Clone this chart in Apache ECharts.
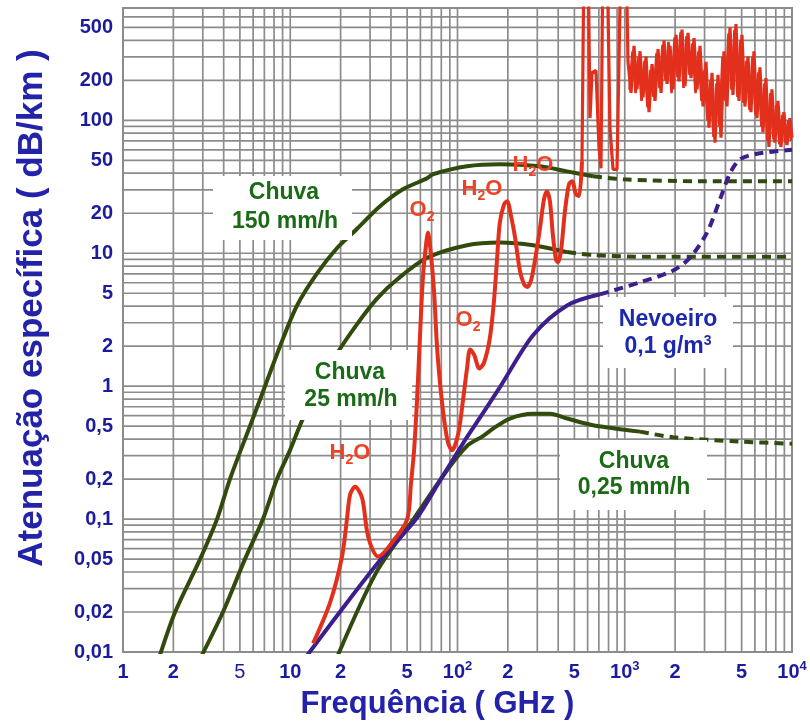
<!DOCTYPE html>
<html><head><meta charset="utf-8">
<script src="https://cdn.jsdelivr.net/npm/echarts@6/dist/echarts.min.js"></script>
<style>html,body{margin:0;padding:0;background:#fff}#c{width:810px;height:722px}</style>
</head><body><div id="c"></div>
<script>
// ---- axes / ticks ----
const X_MIN = 1, X_MAX = 10000, Y_MIN = 0.01, Y_MAX = 700;
const xTicks = [1, 2, 5, 10, 20, 50, 100, 200, 500, 1000, 2000, 5000, 10000];
const xTickText = ['1', '2', '{t|5}', '10', '2', '5', '10{s|2}', '2', '5', '10{s|3}', '2', '5', '10{s|4}'];
const yTicks = [500, 200, 100, 50, 20, 10, 5, 2, 1, 0.5, 0.2, 0.1, 0.05, 0.02, 0.01];
const yTickText = ['500', '200', '100', '50', '20', '10', '5', '2', '1', '0,5', '0,2', '0,1', '0,05', '0,02', '0,01'];

// ---- Chuva 150 mm/h ----
const rain150Freq = [1.66, 2.05, 2.89, 3.65, 4.36, 5.74, 6.59, 8.69, 11.0, 14.5, 19.0, 25.1, 34.4, 47.2, 65.7, 71.3, 114, 179, 311, 452, 646];
const rain150Att  = [0.0094, 0.020, 0.050, 0.10, 0.20, 0.50, 0.79, 2.0, 4.06, 7.08, 10.9, 15.3, 22.6, 30.3, 36.6, 39.3, 45.1, 46.7, 45.1, 41.3, 37.9];
const rain150DashFreq = [646, 977, 2820, 10000];
const rain150DashAtt  = [37.9, 36.0, 34.8, 34.8];

// ---- Chuva 25 mm/h ----
const rain25Freq = [2.97, 3.96, 5.36, 6.87, 8.33, 9.96, 11.9, 14.5, 19.0, 25.1, 33.0, 43.5, 65.7, 114, 179, 283, 452];
const rain25Att  = [0.0095, 0.020, 0.050, 0.10, 0.20, 0.329, 0.57, 0.936, 1.75, 2.93, 4.55, 6.34, 9.24, 11.5, 12.05, 11.5, 10.2];
const rain25DashFreq = [452, 646, 1415, 10000];
const rain25DashAtt  = [10.2, 9.7, 9.4, 9.4];

// ---- Chuva 0,25 mm/h ----
const rain025Freq = [19.3, 33.0, 54.2, 87.7, 114, 142, 164, 206, 283, 357, 452, 646, 1233];
const rain025Att  = [0.0095, 0.0406, 0.0986, 0.238, 0.355, 0.421, 0.481, 0.571, 0.620, 0.620, 0.571, 0.508, 0.455];
const rain025DashFreq = [1233, 1945, 4890, 10000];
const rain025DashAtt  = [0.455, 0.413, 0.383, 0.369];

// ---- Nevoeiro 0,1 g/m3 ----
const fogFreq = [12.6, 19.8, 34.9, 56.5, 79.6, 112, 126, 179, 283, 452, 711];
const fogAtt  = [0.0094, 0.020, 0.050, 0.10, 0.20, 0.40, 0.50, 0.98, 2.42, 4.05, 4.91];
const fogDashFreq = [711, 1233, 1945, 2455, 3103, 3715, 4259, 4890, 6177, 10000];
const fogDashAtt  = [4.91, 6.04, 7.41, 9.25, 14.3, 25.5, 39.9, 50.8, 56.1, 60];

// ---- Gases (O2 + H2O) ----
const gasFreq = [13.7, 17.3, 20.4, 21.8, 22.8, 24.4, 26.9, 28.8, 30.8, 33.5, 40.6, 49.9, 52.7, 55.0, 57.3, 59.7, 62.2, 64.8, 66.6, 69.4, 72.4, 75.4, 78.6, 83.0, 87.7, 92.7, 101, 108, 114, 119, 126, 135, 144, 156, 165, 172, 179, 190, 198, 209, 221, 236, 250, 261, 275, 291, 311, 329, 343, 357, 372, 388, 399, 416, 439, 464, 484, 511, 533, 555];
const gasAtt  = [0.0116, 0.0235, 0.0523, 0.0986, 0.153, 0.175, 0.144, 0.0805, 0.0604, 0.0523, 0.0667, 0.0986, 0.185, 0.329, 0.794, 2.42, 6.74, 11.5, 14.3, 9.7, 5.17, 2.0, 1.06, 0.571, 0.376, 0.329, 0.438, 0.794, 1.36, 1.89, 1.71, 1.36, 1.50, 2.29, 4.29, 8.67, 16.9, 23.4, 24.6, 19.0, 13.1, 7.41, 5.85, 5.58, 6.24, 8.96, 15.3, 25.5, 29.2, 24.6, 13.6, 8.96, 8.55, 10.5, 20.7, 33.0, 34.8, 27.8, 26.9, 49.2];
const gasHighFreq = [555, 571, 603, 620, 637, 673, 701, 721, 741, 783, 816, 851, 899, 924, 950, 1017,
  1046, 1090, 1136, 1184, 1234, 1286, 1340, 1397, 1456, 1517, 1581, 1648, 1717, 1790, 1865, 1944, 2026, 2111, 2200, 2293,
  2390, 2490, 2595, 2705, 2819, 2937, 3061, 3190, 3324, 3464, 3610, 3762, 3921, 4086, 4258, 4437, 4624, 4819, 5022, 5233,
  5454, 5683, 5923, 6172, 6432, 6703, 6985, 7280, 7586, 7906, 8239, 8586, 8947, 9324, 9717, 10000];
const gasHighAtt  = [49.2, 2000, 2000, 104, 228, 237, 63, 43.6, 2000, 2000, 87.8, 42.8, 42.8, 42.8, 2000, 2000,
  275, 161, 364, 171, 331, 149, 302, 115, 265, 140, 344, 161, 400, 188, 364, 171, 439, 196, 482, 181,
  455, 208, 415, 171, 364, 127, 275, 88, 228, 68, 220, 74, 331, 127, 500, 155, 529, 140, 439, 127,
  302, 115, 331, 104, 250, 81, 208, 63, 171, 68, 140, 63, 115, 65, 104, 74];
// in-between samples of the same noisy absorption band
const gasBandFreq = [1068, 1113, 1160, 1209, 1260, 1313, 1368, 1426, 1486, 1549, 1614, 1682, 1753, 1827, 1904, 1985, 2068, 2155, 2246, 2341,
  2440, 2542, 2649, 2761, 2877, 2999, 3125, 3256, 3394, 3537, 3686, 3841, 4003, 4171, 4347, 4530, 4721, 4919, 5127, 5343,
  5568, 5803, 6047, 6301, 6566, 6843, 7131, 7431, 7744, 8071, 8411, 8765, 9134, 9519, 9858];
const gasBandAtt  = [170, 330, 160, 300, 140, 280, 125, 240, 150, 320, 175, 370, 200, 390, 160, 420, 210, 460, 175, 430,
  220, 380, 160, 330, 140, 240, 100, 200, 75, 190, 90, 300, 140, 450, 170, 480, 150, 400, 135, 280,
  120, 300, 110, 230, 90, 190, 70, 160, 72, 130, 66, 110, 68, 100, 70];

// ---- styling constants ----
const FONT = '"Liberation Sans", Arial, sans-serif';
const GREEN = '#314b0e', FOG = '#3c1f8c', RED = '#e2301d';
const GREEN_TXT = '#1b6a16', BLUE_TXT = '#1c28ad', RED_TXT = '#ef4224', AXIS_TXT = '#1b1b9c', TITLE = '#2323aa';
const GRID_COLOR = '#8c8c8c';

const zip = (a, b) => a.map((v, i) => [v, b[i]]);

// grid line values (standard log grid)
const xGrid = [], yGrid = [];
for (let e = 0; e < 4; e++) for (let m = 1; m <= 9; m++) xGrid.push(m * Math.pow(10, e));
xGrid.push(10000);
for (let e = -2; e < 3; e++) for (let m = 1; m <= 9; m++) { const v = +(m * Math.pow(10, e)).toPrecision(3); if (v <= 700) yGrid.push(v); }

function lineSeries(name, data, color, dashed, smooth, width) {
  return {
    name, type: 'line', data, symbol: 'none', smooth: smooth, z: 3,
    lineStyle: { color, width: width || 4, type: dashed ? [9, 6] : 'solid' },
    silent: true, animation: false
  };
}

const chart = echarts.init(document.getElementById('c'), null, { renderer: 'canvas' });
const xLabelMap = {};
xTicks.forEach((v, i) => { xLabelMap[v] = xTickText[i]; });
const yLabelMap = {};
yTicks.forEach((v, i) => { yLabelMap[v] = yTickText[i]; });
const keyOf = v => +(+v).toPrecision(4);

function txt(x, y, text, fill, size) {
  return {
    type: 'text', x, y, z: 20, silent: true,
    style: {
      text, fill, font: 'bold ' + size + 'px ' + FONT,
      align: 'center', verticalAlign: 'middle', textAlign: 'center', textVerticalAlign: 'middle'
    }
  };
}
function box(x, y, w, h) {
  return { type: 'rect', shape: { x, y, width: w, height: h }, style: { fill: '#ffffff' }, z: 10, silent: true };
}
function chem(x, y, a, sub, b) {
  return {
    type: 'text', x, y, z: 20, silent: true,
    style: {
      text: a + '{s|' + sub + '}' + b, fill: RED_TXT, font: 'bold 22px ' + FONT,
      align: 'center', verticalAlign: 'middle', textAlign: 'center', textVerticalAlign: 'middle',
      lineHeight: 28,
      rich: { s: { fontSize: 14, fontWeight: 'bold', fontFamily: FONT, fill: RED_TXT, color: RED_TXT, verticalAlign: 'bottom', lineHeight: 14 } }
    }
  };
}

const option = {
  backgroundColor: '#ffffff',
  animation: false,
  grid: { left: 123, right: 18, top: 8, bottom: 70, show: true, borderColor: GRID_COLOR, borderWidth: 2, backgroundColor: 'transparent', outerBoundsMode: 'none', containLabel: false },
  xAxis: {
    type: 'log', logBase: 10, min: X_MIN, max: X_MAX,
    name: 'Frequência ( GHz )', nameLocation: 'middle', nameGap: 37,
    nameTextStyle: { fontFamily: FONT, fontWeight: 'bold', fontSize: 31, color: TITLE, padding: [0, 40, 0, 0] },
    axisLine: { show: false }, axisTick: { show: false }, splitLine: { show: false }, minorSplitLine: { show: false },
    axisLabel: {
      customValues: xTicks, margin: 8, fontFamily: FONT, fontWeight: 'bold', fontSize: 20, color: AXIS_TXT, lineHeight: 24,
      formatter: v => xLabelMap[keyOf(v)] || '',
      rich: {
        t: { fontFamily: FONT, fontWeight: 'normal', fontSize: 20, color: AXIS_TXT, lineHeight: 24 },
        s: { fontFamily: FONT, fontWeight: 'bold', fontSize: 13, color: AXIS_TXT, verticalAlign: 'top', lineHeight: 13 }
      }
    }
  },
  yAxis: {
    type: 'log', logBase: 10, min: Y_MIN, max: Y_MAX,
    name: 'Atenuação específica ( dB/km )', nameLocation: 'middle', nameGap: 73, nameRotate: 90,
    nameTextStyle: { fontFamily: FONT, fontWeight: 'bold', fontSize: 35, color: TITLE, padding: [0, 0, 0, 44] },
    axisLine: { show: false }, axisTick: { show: false }, splitLine: { show: false }, minorSplitLine: { show: false },
    axisLabel: {
      customValues: yTicks, margin: 10, fontFamily: FONT, fontWeight: 'bold', fontSize: 20, color: AXIS_TXT,
      formatter: v => yLabelMap[keyOf(v)] || ''
    }
  },
  series: [
    {
      type: 'custom', name: 'vgrid', z: 0, silent: true, clip: false,
      data: xGrid.map(v => [v, Y_MIN]), encode: { x: 0, y: 1 },
      renderItem: (p, api) => {
        const v = api.value(0); const a = api.coord([v, Y_MIN]); const b = api.coord([v, Y_MAX]);
        return { type: 'line', shape: { x1: a[0], y1: a[1], x2: b[0], y2: b[1] }, style: { stroke: GRID_COLOR, lineWidth: 1.7 } };
      }
    },
    {
      type: 'custom', name: 'hgrid', z: 0, silent: true, clip: false,
      data: yGrid.map(v => [X_MIN, v]), encode: { x: 0, y: 1 },
      renderItem: (p, api) => {
        const v = api.value(1); const a = api.coord([X_MIN, v]); const b = api.coord([X_MAX, v]);
        return { type: 'line', shape: { x1: a[0], y1: a[1], x2: b[0], y2: b[1] }, style: { stroke: GRID_COLOR, lineWidth: 1.7 } };
      }
    },
    lineSeries('Chuva 150 mm/h', zip(rain150Freq, rain150Att), GREEN, false, 0.3),
    lineSeries('Chuva 150 mm/h (tracejado)', zip(rain150DashFreq, rain150DashAtt), GREEN, true, 0.3),
    lineSeries('Chuva 25 mm/h', zip(rain25Freq, rain25Att), GREEN, false, 0.3),
    lineSeries('Chuva 25 mm/h (tracejado)', zip(rain25DashFreq, rain25DashAtt), GREEN, true, 0.3),
    lineSeries('Chuva 0,25 mm/h', zip(rain025Freq, rain025Att), GREEN, false, 0.3),
    lineSeries('Chuva 0,25 mm/h (tracejado)', zip(rain025DashFreq, rain025DashAtt), GREEN, true, 0.3),
    lineSeries('Nevoeiro', zip(fogFreq, fogAtt), FOG, false, 0.3),
    lineSeries('Nevoeiro (tracejado)', zip(fogDashFreq, fogDashAtt), FOG, true, 0.3),
    lineSeries('Gases', zip(gasFreq, gasAtt), RED, false, 0.3),
    lineSeries('Gases (alta freq.)', zip(gasHighFreq, gasHighAtt), RED, false, false, 3.2),
    lineSeries('Gases (banda)', zip(gasBandFreq, gasBandAtt), RED, false, false, 2.6)
  ],
  graphic: [
    box(213, 176, 139, 64), txt(284, 193, 'Chuva', GREEN_TXT, 23), txt(285, 222, '150 mm/h', GREEN_TXT, 23),
    box(285, 350, 127, 70), txt(350, 373, 'Chuva', GREEN_TXT, 23), txt(351, 400, '25 mm/h', GREEN_TXT, 23),
    box(603, 297, 130, 71), txt(668, 320, 'Nevoeiro', BLUE_TXT, 23),
    {
      type: 'text', x: 668, y: 347, z: 20, silent: true,
      style: {
        text: '0,1 g/m{s|3}', fill: BLUE_TXT, font: 'bold 23px ' + FONT, lineHeight: 26,
        align: 'center', verticalAlign: 'middle', textAlign: 'center', textVerticalAlign: 'middle',
        rich: { s: { fontSize: 14, fontWeight: 'bold', fontFamily: FONT, fill: BLUE_TXT, color: BLUE_TXT, verticalAlign: 'top', lineHeight: 14 } }
      }
    },
    box(560, 440, 147, 70), txt(634, 462, 'Chuva', GREEN_TXT, 23), txt(634, 488, '0,25 mm/h', GREEN_TXT, 23),
    chem(350, 453, 'H', '2', 'O'),
    chem(422, 210, 'O', '2', ''),
    chem(468, 320, 'O', '2', ''),
    chem(482, 189, 'H', '2', 'O'),
    chem(533, 165, 'H', '2', 'O')
  ]
};
chart.setOption(option);
</script>
</body></html>
